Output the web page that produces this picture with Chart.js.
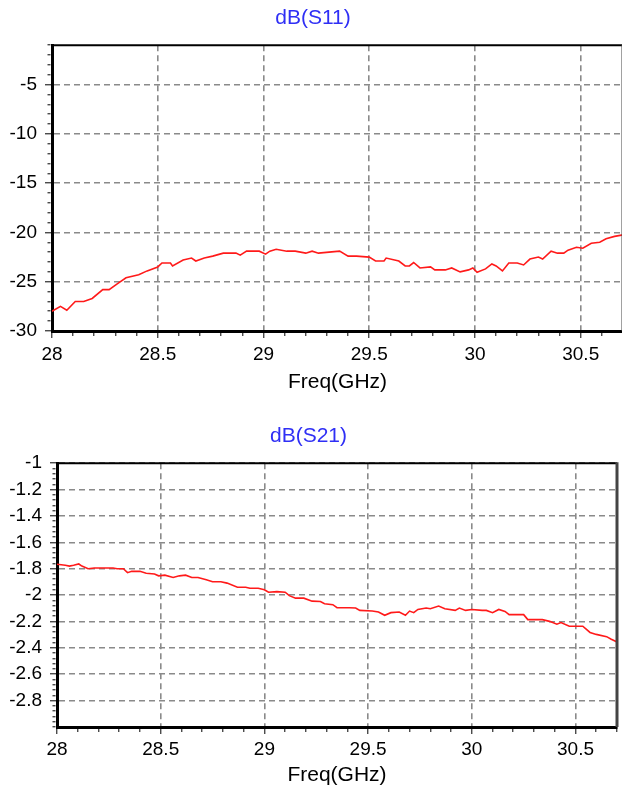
<!DOCTYPE html>
<html>
<head>
<meta charset="utf-8">
<script src="https://cdn.jsdelivr.net/npm/chart.js@4/dist/chart.umd.min.js"></script>
<style>
  html, body { margin: 0; padding: 0; background: #fff; }
  #wrap { position: relative; width: 622px; height: 789px; overflow: hidden; }
  #s11 { position: absolute; left: 0; top: 0; }
  #s21 { position: absolute; left: 0; top: 400px; }
</style>
</head>
<body>
<div id="wrap">
  <canvas id="s11" width="628" height="400"></canvas>
  <canvas id="s21" width="622" height="389"></canvas>
</div>
<script>
// S11 (top plot)
const s11Freq = [28.00, 28.04, 28.07, 28.11, 28.15, 28.19, 28.24, 28.27, 28.31, 28.35, 28.41, 28.45,
  28.50, 28.52, 28.56, 28.57, 28.62, 28.66, 28.68, 28.72, 28.76, 28.81, 28.87, 28.89, 28.92, 28.98,
  29.01, 29.03, 29.06, 29.11, 29.15, 29.20, 29.23, 29.26, 29.31, 29.36, 29.40, 29.44, 29.50, 29.53,
  29.57, 29.58, 29.64, 29.67, 29.69, 29.71, 29.74, 29.79, 29.81, 29.86, 29.89, 29.93, 29.97, 29.99,
  30.01, 30.05, 30.08, 30.10, 30.13, 30.16, 30.20, 30.23, 30.26, 30.30, 30.32, 30.36, 30.39, 30.42,
  30.44, 30.48, 30.51, 30.55, 30.59, 30.62, 30.66, 30.70]
const s11Db = [-28.0, -27.5, -27.9, -27.0, -27.0, -26.7, -25.8, -25.8, -25.2, -24.6, -24.3, -23.9,
  -23.5, -23.1, -23.1, -23.4, -22.8, -22.6, -22.9, -22.6, -22.4, -22.1, -22.1, -22.3, -21.9, -21.9,
  -22.2, -21.9, -21.7, -21.9, -21.9, -22.1, -21.9, -22.1, -22.0, -21.9, -22.4, -22.4, -22.5, -22.9,
  -22.9, -22.6, -22.9, -23.4, -23.4, -23.05, -23.6, -23.5, -23.8, -23.8, -23.6, -24.0, -23.8, -23.6,
  -24.05, -23.7, -23.2, -23.4, -23.9, -23.1, -23.1, -23.3, -22.7, -22.5, -22.7, -21.9, -22.1, -22.1,
  -21.8, -21.5, -21.6, -21.1, -21.0, -20.65, -20.4, -20.25]

// S21 (bottom plot)
const s21Freq = [28.00, 28.04, 28.06, 28.08, 28.105, 28.12, 28.15, 28.18, 28.27, 28.29, 28.32, 28.34,
  28.36, 28.40, 28.43, 28.47, 28.49, 28.52, 28.56, 28.59, 28.62, 28.65, 28.68, 28.72, 28.75, 28.79,
  28.82, 28.87, 28.91, 28.93, 28.97, 29.00, 29.02, 29.06, 29.10, 29.12, 29.15, 29.19, 29.23, 29.27,
  29.29, 29.33, 29.35, 29.41, 29.44, 29.46, 29.52, 29.55, 29.58, 29.61, 29.65, 29.68, 29.70, 29.72,
  29.74, 29.78, 29.80, 29.84, 29.87, 29.92, 29.94, 29.97, 30.00, 30.05, 30.07, 30.10, 30.13, 30.16,
  30.18, 30.25, 30.27, 30.34, 30.375, 30.41, 30.43, 30.47, 30.535, 30.57, 30.60, 30.65, 30.67, 30.70]
const s21Db = [-1.766, -1.774, -1.78, -1.774, -1.764, -1.78, -1.80, -1.794, -1.794, -1.80, -1.80, -1.83,
  -1.82, -1.82, -1.834, -1.84, -1.854, -1.849, -1.866, -1.854, -1.849, -1.866, -1.866, -1.884, -1.899, -1.899,
  -1.909, -1.94, -1.94, -1.948, -1.948, -1.959, -1.978, -1.974, -1.978, -2.004, -2.023, -2.023, -2.046, -2.049,
  -2.066, -2.073, -2.096, -2.096, -2.098, -2.116, -2.121, -2.128, -2.153, -2.133, -2.128, -2.153, -2.121, -2.133,
  -2.109, -2.098, -2.103, -2.083, -2.103, -2.116, -2.098, -2.116, -2.109, -2.116, -2.116, -2.133, -2.109, -2.124,
  -2.148, -2.148, -2.186, -2.186, -2.199, -2.221, -2.208, -2.236, -2.236, -2.283, -2.298, -2.315, -2.333, -2.355]

// tick labels
const xTickLabels = [28, 28.5, 29, 29.5, 30, 30.5]
const s11YTickLabels = [-5, -10, -15, -20, -25, -30]
const s21YTickLabels = [-1, -1.2, -1.4, -1.6, -1.8, -2, -2.2, -2.4, -2.6, -2.8]

Chart.defaults.font.family = '"Liberation Sans", Arial, sans-serif'
Chart.defaults.font.size = 19
Chart.defaults.color = '#000'

const GRID = '#8a8a8a'
const TICK_LEN = 7
const TITLE_SIZE = 21

const steps = (min, max, step) => {
  const out = []
  const n = Math.round((max - min) / step)
  for (let i = 0; i <= n; i++) out.push(+(min + i * step).toFixed(4))
  return out
}
const isMajor = (list, v) => list.some((m) => Math.abs(m - v) < 1e-6)

const framePlugin = {
  id: 'frame',
  afterDraw(chart) {
    const { ctx, chartArea: a } = chart
    ctx.save()
    ctx.strokeStyle = '#000'
    ctx.lineWidth = 2
    ctx.beginPath()
    ctx.moveTo(a.left, a.top)
    ctx.lineTo(a.right, a.top)
    ctx.stroke()
    ctx.strokeStyle = '#444'
    ctx.lineWidth = 3
    ctx.beginPath()
    ctx.moveTo(a.right, a.top - 1)
    ctx.lineTo(a.right, a.bottom)
    ctx.stroke()
    ctx.restore()
  },
}

const buildAxis = ({ min, max, minor, labels, side, size, padding, title }) => {
  const horizontal = side === 'bottom'
  const major = (ctx) => ctx.tick && isMajor(labels, ctx.tick.value)
  return {
    type: 'linear',
    position: side,
    min,
    max,
    afterBuildTicks: (scale) => {
      scale.ticks = steps(min, max, minor).map((value) => ({ value }))
    },
    afterFit: (scale) => {
      if (horizontal) scale.height = size
      else scale.width = size
    },
    grid: {
      color: (ctx) => (major(ctx) ? GRID : 'rgba(0,0,0,0)'),
      lineWidth: 1.6,
      tickLength: TICK_LEN,
      tickColor: '#000',
      tickWidth: 1,
      // minor ticks: only a short piece next to the axis line
      tickBorderDash: (ctx) => {
        if (major(ctx)) return []
        return horizontal ? [3, 40] : [0, TICK_LEN - 4.5, 3, 40]
      },
    },
    border: { display: true, color: '#000', width: 3, dash: [6, 4] },
    ticks: {
      autoSkip: false,
      maxRotation: 0,
      padding,
      callback: (v) => (isMajor(labels, v) ? String(labels.find((m) => Math.abs(m - v) < 1e-6)) : ''),
    },
    title: title
      ? { display: true, text: title.text, font: { size: TITLE_SIZE }, color: '#000', padding: { top: 0, bottom: title.bottom } }
      : { display: false },
  }
}

const buildOptions = ({ name, layout, x, y, titlePad }) => ({
  responsive: false,
  animation: false,
  layout: { padding: layout },
  plugins: {
    legend: { display: false },
    tooltip: { enabled: false },
    title: {
      display: true,
      text: name,
      color: '#2f2ff5',
      font: { size: TITLE_SIZE, weight: 'normal' },
      padding: titlePad,
    },
  },
  scales: { x: buildAxis(x), y: buildAxis(y) },
})

const makeChart = (el, { name, freq, db, layout, x, y, titlePad }) =>
  new Chart(el, {
    type: 'line',
    data: {
      datasets: [
        {
          data: freq.map((f, i) => ({ x: f, y: db[i] })),
          borderColor: '#ff1a1a',
          borderWidth: 1.6,
          pointRadius: 0,
          tension: 0,
          fill: false,
        },
      ],
    },
    options: buildOptions({ name, layout, x, y, titlePad }),
    plugins: [framePlugin],
  })

makeChart(document.getElementById('s11'), {
  name: 'dB(S11)',
  freq: s11Freq,
  db: s11Db,
  layout: { top: 0, left: 0, right: 2, bottom: 0 },
  titlePad: { top: 6, bottom: 14 },
  x: { min: 28, max: 30.7, minor: 0.1, labels: xTickLabels, side: 'bottom', size: 69, padding: 5, title: { text: 'Freq(GHz)', bottom: 5 } },
  y: { min: -30, max: -1, minor: 1, labels: s11YTickLabels, side: 'left', size: 52, padding: 8 },
})

makeChart(document.getElementById('s21'), {
  name: 'dB(S21)',
  freq: s21Freq,
  db: s21Db,
  layout: { top: 0, left: 0, right: 5, bottom: 0 },
  titlePad: { top: 24, bottom: 14 },
  x: { min: 28, max: 30.7, minor: 0.1, labels: xTickLabels, side: 'bottom', size: 62, padding: 4, title: { text: 'Freq(GHz)', bottom: 1 } },
  y: { min: -3, max: -1, minor: 0.04, labels: s21YTickLabels, side: 'left', size: 57, padding: 8 },
})
</script>
</body>
</html>
